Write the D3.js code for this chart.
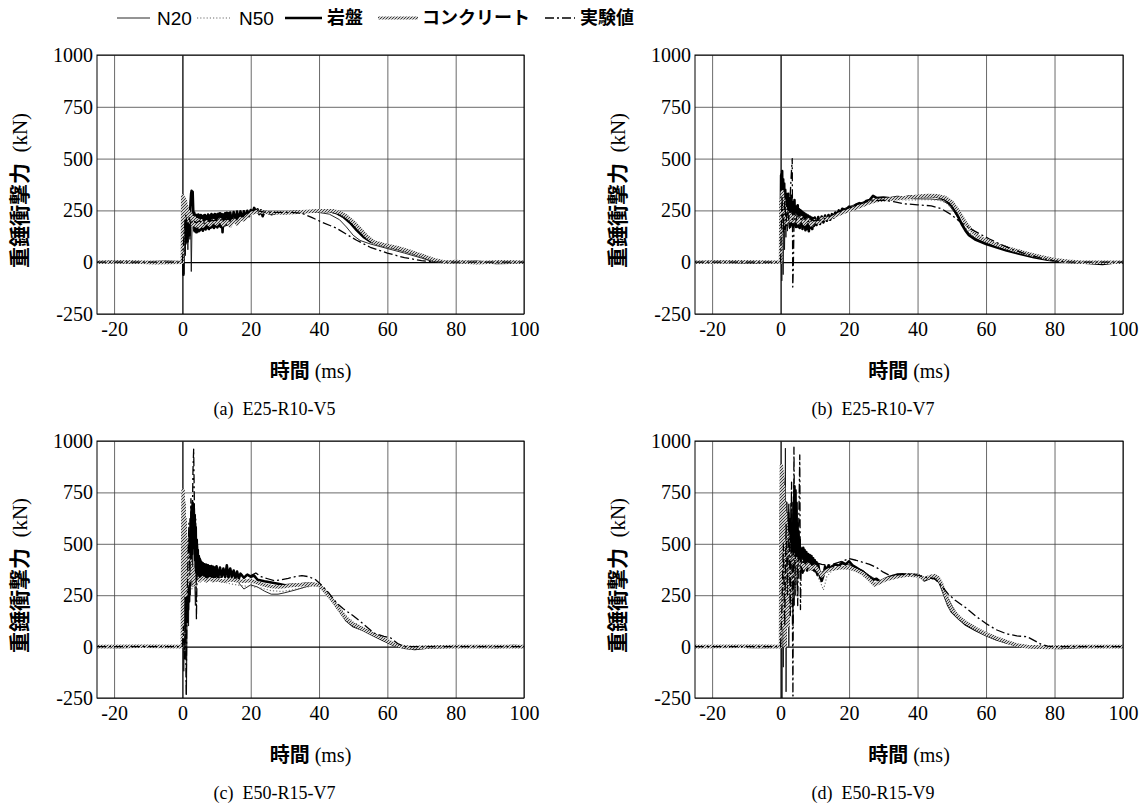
<!DOCTYPE html>
<html>
<head>
<meta charset="utf-8">
<script src="https://cdn.jsdelivr.net/npm/d3@7"></script>
<style>
  body { margin: 0; background: #fff; }
  svg { display: block; }
</style>
</head>
<body>
<svg id="fig" width="1146" height="805"></svg>
<script>
// ---- axis ticks and labels ----
const xTicks = [-20, 0, 20, 40, 60, 80, 100];
const yTicks = [-250, 0, 250, 500, 750, 1000];
const seriesNames = ["N20", "N50", "岩盤", "コンクリート", "実験値"];
const panelTitles = ["(a)  E25-R10-V5", "(b)  E25-R10-V7", "(c)  E50-R15-V7", "(d)  E50-R15-V9"];

// ---- (a) E25-R10-V5 : [time ms, force kN] ----
const aN20 = [[-25,0],[-18,3],[-10,-2],[-3,2],[0,0],[0.2,290],[0.4,-60],[0.6,240],[0.8,30],[1.0,270],[1.2,110],[1.4,230],[1.6,60],[1.8,250],[2.0,160],[2.2,110],[2.4,225],[2.6,-45],[2.8,150],[3.0,240],[3.3,150],[3.6,215],[3.9,140],[4.2,205],[4.5,150],[4.8,210],[5.1,155],[5.4,205],[5.7,160],[6.0,200],[6.4,165],[6.8,205],[7.2,170],[7.6,210],[8,175],[8.5,212],[9,180],[9.5,210],[10,185],[11,212],[12,190],[13,215],[14,200],[16,218],[18,232],[20,245],[22,242],[25,236],[30,238],[35,242],[40,240],[43,232],[46,205],[48,170],[50,130],[52,105],[55,88],[60,66],[65,44],[70,20],[73,4],[78,0],[85,-3],[92,2],[100,0]];
const aN50 = [[-25,0],[0,0],[0.3,210],[0.6,70],[0.9,235],[1.2,130],[1.5,205],[1.9,140],[2.4,195],[3.0,160],[3.6,200],[4.2,165],[5,195],[6,170],[7,198],[8,180],[10,200],[12,192],[14,205],[16,212],[18,226],[20,238],[23,240],[27,236],[32,240],[38,244],[42,244],[45,236],[48,205],[50,172],[52,138],[55,104],[58,85],[62,66],[67,44],[72,18],[75,3],[80,0],[100,0]];
const aRock = [[-25,0],[-20,2],[-12,-2],[-5,2],[0,0],[0.15,170],[0.3,-60],[0.45,250],[0.6,40],[0.75,230],[0.9,90],[1.05,250],[1.2,120],[1.35,260],[1.5,100],[1.65,230],[1.8,140],[1.95,250],[2.1,130],[2.25,240],[2.4,290],[2.55,330],[2.7,345],[2.85,310],[3.0,340],[3.15,260],[3.3,180],[3.45,240],[3.6,150],[3.75,230],[3.9,160],[4.05,228],[4.2,145],[4.35,222],[4.5,155],[4.65,230],[4.8,150],[5.0,225],[5.2,155],[5.4,228],[5.6,160],[5.8,222],[6.0,152],[6.2,225],[6.4,162],[6.6,228],[6.8,158],[7.0,222],[7.25,165],[7.5,230],[7.75,160],[8.0,225],[8.25,166],[8.5,232],[8.75,170],[9.0,228],[9.25,165],[9.5,232],[9.75,172],[10,230],[10.25,168],[10.5,234],[10.75,175],[11,236],[11.25,170],[11.5,232],[11.75,145],[12,230],[12.25,175],[12.5,236],[12.75,180],[13,238],[13.25,182],[13.5,236],[13.75,185],[14,240],[14.5,190],[15,242],[15.5,195],[16,244],[16.5,200],[17,245],[17.5,205],[18,246],[18.5,215],[19,248],[19.5,222],[20,252],[20.5,240],[21,262],[21.5,245],[22,255],[22.5,232],[23,250],[23.5,222],[24,245],[25,238],[26,232],[28,240],[30,238],[33,243],[36,245],[40,248],[43,247],[45,238],[47,220],[49,192],[51,155],[53,122],[55,100],[58,84],[62,68],[66,50],[70,30],[73,12],[76,2],[80,0],[86,2],[92,-4],[100,0]];
const aConc = [[-25,0],[-16,2],[-8,-2],[0,0],[0.1,320],[0.3,270],[0.5,310],[0.7,240],[0.9,295],[1.1,210],[1.3,270],[1.5,200],[1.8,245],[2.1,195],[2.5,230],[3,180],[3.5,215],[4,175],[4.5,205],[5,170],[5.5,200],[6,175],[7,195],[8,180],[9,200],[10,185],[11,205],[12,180],[13,200],[14,175],[15,205],[16,185],[17,210],[18,205],[19,225],[20,235],[22,245],[25,240],[30,238],[35,243],[40,248],[44,248],[46,240],[48,222],[50,195],[52,160],[54,124],[56,98],[59,84],[63,70],[67,50],[71,28],[74,10],[77,0],[80,3],[86,-3],[93,2],[100,0]];
const aExp = [[-25,0],[-10,0],[0,0],[0.5,140],[1,230],[1.5,170],[2,215],[2.5,180],[3,205],[4,190],[5,200],[6,185],[8,200],[10,202],[12,205],[15,212],[18,228],[21,252],[24,242],[28,240],[32,240],[35,236],[38,215],[41,192],[45,165],[48,135],[51,106],[55,72],[60,44],[65,22],[70,8],[74,0],[100,0]];

// ---- (b) E25-R10-V7 ----
const bN20 = [[-25,0],[-15,2],[-5,-2],[0,0],[0.15,430],[0.35,-90],[0.55,380],[0.75,-60],[0.95,320],[1.15,60],[1.35,300],[1.55,120],[1.75,280],[2.0,150],[2.3,260],[2.6,160],[2.9,300],[3.2,200],[3.5,250],[3.8,170],[4.2,260],[4.6,170],[5,240],[5.4,165],[5.8,230],[6.2,170],[6.6,220],[7,165],[7.4,215],[7.8,160],[8.2,210],[8.6,165],[9,205],[9.5,170],[10,200],[11,190],[12,205],[14,215],[16,235],[18,255],[20,268],[22,280],[25,295],[28,305],[32,310],[36,308],[40,306],[44,305],[47,300],[49,280],[51,235],[53,185],[55,140],[57,115],[60,92],[64,70],[68,50],[72,35],[76,20],[80,8],[84,2],[90,-3],[95,-6],[100,0]];
const bN50 = [[-25,0],[0,0],[0.3,360],[0.6,100],[0.9,330],[1.2,150],[1.5,300],[1.9,170],[2.3,280],[2.8,190],[3.3,260],[3.8,200],[4.4,240],[5,205],[6,225],[7,200],[8,210],[9,195],[10,205],[12,210],[14,220],[16,240],[18,252],[20,262],[23,280],[26,295],[30,300],[34,302],[38,300],[42,302],[46,300],[48,290],[50,262],[52,215],[54,165],[56,130],[59,102],[63,78],[67,56],[71,38],[75,22],[79,9],[83,2],[90,-3],[100,0]];
const bRock = [[-25,0],[-18,2],[-8,-2],[0,0],[0.15,420],[0.3,180],[0.45,440],[0.6,150],[0.75,400],[0.9,200],[1.05,380],[1.2,160],[1.35,350],[1.5,220],[1.65,330],[1.8,180],[1.95,320],[2.1,200],[2.25,330],[2.4,190],[2.55,310],[2.7,170],[2.85,300],[3.0,200],[3.15,320],[3.3,180],[3.45,290],[3.6,170],[3.75,280],[3.9,190],[4.05,300],[4.2,180],[4.35,270],[4.5,170],[4.65,260],[4.8,185],[5.0,275],[5.2,170],[5.4,255],[5.6,165],[5.8,250],[6.0,175],[6.2,245],[6.4,160],[6.6,240],[6.8,170],[7.0,235],[7.25,155],[7.5,230],[7.75,160],[8.0,225],[8.25,150],[8.5,220],[8.75,165],[9.0,215],[9.25,160],[9.5,212],[9.75,175],[10,215],[10.5,180],[11,218],[11.5,185],[12,220],[12.5,192],[13,225],[13.5,200],[14,228],[14.5,205],[15,232],[15.5,215],[16,240],[16.5,228],[17,250],[17.5,238],[18,258],[19,250],[20,268],[21,260],[22,278],[23,285],[24,280],[25,295],[26,300],[27,320],[28,310],[30,312],[32,308],[34,315],[36,312],[38,318],[40,316],[42,320],[44,318],[46,315],[48,302],[50,272],[51,245],[52,215],[53,180],[54,152],[55,130],[57,108],[60,88],[63,72],[66,56],[70,40],[74,24],[78,12],[82,4],[86,0],[90,-4],[94,-8],[97,-2],[100,0]];
const bConc = [[-25,0],[-12,2],[0,0],[0.1,300],[0.3,220],[0.5,340],[0.7,180],[0.9,300],[1.1,200],[1.4,260],[1.8,190],[2.2,240],[2.7,200],[3.2,230],[3.8,195],[4.5,225],[5.2,190],[6,215],[7,185],[8,205],[9,180],[10,200],[11,190],[12,208],[14,212],[16,225],[18,238],[20,252],[22,262],[24,275],[26,288],[28,298],[31,303],[34,308],[37,312],[40,318],[43,322],[46,320],[48,312],[50,290],[52,245],[54,190],[56,150],[58,120],[61,98],[64,80],[68,60],[72,42],[76,26],[80,12],[84,4],[88,0],[100,0]];
const bExp = [[-25,0],[-10,0],[0,0],[0.4,320],[0.8,160],[1.2,300],[1.6,190],[2.0,260],[2.4,200],[2.8,320],[3.1,420],[3.4,500],[3.55,-120],[3.7,-40],[4.0,260],[4.5,200],[5,240],[6,205],[7,220],[8,195],[9,205],[10,200],[12,205],[14,218],[16,235],[18,250],[20,262],[23,280],[26,295],[30,300],[33,292],[36,282],[40,277],[44,272],[47,258],[50,228],[52,200],[55,166],[58,138],[61,112],[64,88],[68,60],[72,38],[76,20],[80,6],[85,0],[100,0]];

// ---- (c) E50-R15-V7 ----
const cN20 = [[-25,0],[-15,2],[-5,-2],[0,0],[0.2,500],[0.4,-120],[0.6,600],[0.8,-60],[1.0,450],[1.2,-233],[1.4,200],[1.6,500],[1.8,100],[2.0,420],[2.3,250],[2.6,560],[2.9,300],[3.2,640],[3.5,380],[3.8,200],[4.1,450],[4.4,320],[4.8,400],[5.2,330],[5.6,380],[6,330],[6.5,375],[7,335],[7.5,370],[8,340],[8.5,368],[9,338],[10,350],[11,335],[12,345],[14,340],[16,320],[18,280],[20,300],[22,290],[24,270],[26,255],[28,255],[30,262],[33,275],[36,290],[38,298],[40,296],[42,268],[44,228],[46,180],[48,140],[50,115],[53,88],[56,62],[59,35],[62,10],[65,-5],[68,-10],[72,-3],[80,0],[90,2],[100,0]];
const cN50 = [[-25,0],[0,0],[0.3,380],[0.6,120],[0.9,520],[1.2,150],[1.5,450],[1.9,250],[2.3,420],[2.8,280],[3.3,400],[3.8,300],[4.4,360],[5,310],[6,340],[7,320],[8,330],[10,320],[12,315],[14,305],[16,300],[18,295],[20,292],[23,285],[26,272],[29,268],[32,275],[35,285],[38,295],[40,292],[42,270],[44,235],[46,190],[48,148],[50,120],[53,92],[56,65],[59,38],[62,12],[65,-2],[70,-8],[76,0],[100,0]];
const cRock = [[-25,0],[-18,-2],[-8,2],[0,0],[0.15,300],[0.3,560],[0.45,220],[0.6,500],[0.75,80],[0.9,420],[1.05,150],[1.2,460],[1.35,120],[1.5,400],[1.65,180],[1.8,480],[1.95,220],[2.1,540],[2.25,300],[2.4,620],[2.55,400],[2.7,680],[2.85,450],[3.0,700],[3.15,520],[3.3,690],[3.45,480],[3.6,640],[3.75,420],[3.9,580],[4.05,360],[4.2,520],[4.35,330],[4.5,470],[4.65,340],[4.8,440],[5.0,340],[5.2,420],[5.4,335],[5.6,410],[5.8,340],[6.0,405],[6.25,335],[6.5,400],[6.75,330],[7.0,398],[7.25,338],[7.5,395],[7.75,340],[8,390],[8.25,335],[8.5,392],[8.75,340],[9,388],[9.25,338],[9.5,385],[9.75,340],[10,390],[10.5,335],[11,385],[11.5,340],[12,380],[12.5,338],[13,395],[13.5,335],[14,380],[14.5,340],[15,370],[15.5,330],[16,365],[16.5,330],[17,355],[18,335],[19,350],[20,340],[21,345],[22,325],[24,318],[26,312],[28,306],[30,298],[32,300],[34,302],[36,306],[38,305],[40,300],[42,262],[44,222],[46,175],[48,128],[50,100],[53,80],[56,55],[59,30],[62,8],[65,-5],[68,-12],[72,-4],[78,0],[85,2],[92,-2],[97,3],[100,0]];
const cConc = [[-25,0],[-12,2],[0,0],[0.1,500],[0.2,760],[0.35,450],[0.5,700],[0.65,350],[0.8,620],[1.0,250],[1.2,520],[1.4,300],[1.6,450],[1.9,320],[2.2,420],[2.6,330],[3,380],[3.5,300],[4,340],[5,320],[6,335],[7,320],[8,330],[9,320],[10,325],[12,318],[14,325],[16,320],[18,318],[20,322],[22,310],[24,300],[26,292],[28,290],[30,292],[32,298],[34,300],[36,302],[38,304],[40,300],[42,265],[44,225],[46,178],[48,135],[50,108],[53,84],[56,60],[59,36],[62,12],[64,2],[67,-5],[72,-2],[80,0],[100,0]];
const cExp = [[-25,0],[-10,0],[0,0],[0.3,100],[0.6,-60],[0.9,200],[1.1,-240],[1.3,150],[1.6,400],[1.9,600],[2.2,350],[2.5,720],[2.8,500],[3.1,860],[3.3,960],[3.5,700],[3.7,450],[3.9,620],[4.1,130],[4.4,500],[4.8,380],[5.2,430],[6,380],[7,400],[8,370],[10,365],[12,358],[14,352],[16,345],[18,348],[20,345],[21.5,358],[23,340],[25,330],[27,320],[29,325],[31,332],[33,340],[35,345],[37,340],[39,325],[41,295],[43,258],[45,215],[47,185],[50,150],[53,110],[56,66],[59,50],[61,42],[63,15],[65,0],[100,0]];

// ---- (d) E50-R15-V9 ----
const dN20 = [[-25,0],[-15,2],[-5,-2],[0,0],[0.2,600],[0.4,-250],[0.6,700],[0.8,-100],[1.0,800],[1.2,100],[1.4,965],[1.6,-220],[1.8,500],[2.0,100],[2.2,650],[2.4,0],[2.6,600],[2.8,150],[3.0,700],[3.2,200],[3.4,600],[3.6,100],[3.8,550],[4.0,200],[4.2,650],[4.4,250],[4.6,550],[4.8,300],[5.0,500],[5.3,330],[5.6,470],[6.0,360],[6.5,450],[7.2,380],[8,430],[9,390],[10,410],[11,380],[12,360],[13,380],[14,385],[16,395],[18,400],[20,398],[22,385],[24,370],[26,345],[28,325],[30,320],[32,335],[35,345],[38,348],[40,345],[42,330],[44,335],[46,320],[48,270],[50,200],[52,145],[55,108],[58,75],[61,52],[64,32],[67,14],[70,3],[74,0],[80,-3],[85,-8],[90,0],[100,0]];
const dN50 = [[-25,0],[0,0],[0.3,500],[0.6,150],[0.9,620],[1.2,80],[1.5,550],[1.8,150],[2.1,520],[2.4,120],[2.7,480],[3.0,200],[3.3,520],[3.7,250],[4.0,480],[4.3,280],[4.6,450],[5,320],[5.4,440],[5.8,340],[6.2,430],[6.6,360],[7.5,410],[8.5,370],[9.5,390],[10.5,350],[11.5,320],[12.5,275],[13.5,340],[15,370],[17,385],[19,395],[21,385],[23,370],[25,350],[27,325],[29,315],[31,325],[34,338],[37,345],[40,342],[43,325],[45,330],[47,300],[49,230],[51,170],[53,132],[56,98],[59,68],[62,46],[65,28],[68,12],[71,3],[76,0],[100,0]];
const dRock = [[-25,0],[-18,2],[-8,-2],[0,0],[0.15,700],[0.3,200],[0.45,850],[0.6,100],[0.75,820],[0.9,300],[1.05,700],[1.2,150],[1.35,650],[1.5,250],[1.65,700],[1.8,200],[1.95,600],[2.1,300],[2.25,650],[2.4,250],[2.55,560],[2.7,300],[2.85,620],[3.0,280],[3.15,540],[3.3,320],[3.45,600],[3.6,300],[3.75,700],[3.9,350],[4.05,780],[4.2,400],[4.35,760],[4.5,420],[4.65,700],[4.8,380],[4.95,600],[5.1,360],[5.25,560],[5.4,380],[5.55,520],[5.7,370],[5.85,480],[6.0,380],[6.2,470],[6.4,360],[6.6,480],[6.8,370],[7.0,470],[7.25,380],[7.5,460],[7.75,370],[8.0,450],[8.25,385],[8.5,445],[8.75,380],[9.0,440],[9.25,375],[9.5,430],[9.75,370],[10,420],[10.25,365],[10.5,410],[10.75,350],[11,400],[11.5,340],[12,320],[12.5,345],[13,390],[13.5,365],[14,395],[14.5,375],[15,390],[16,400],[17,392],[18,410],[19,400],[20,415],[21,395],[22,385],[23,375],[24,365],[25,350],[26,338],[27,325],[28,330],[29,315],[30,325],[32,340],[34,350],[36,352],[38,350],[40,348],[41,340],[42,322],[43,330],[44,338],[45,342],[46,330],[47,290],[48,245],[49,200],[50,170],[52,138],[54,108],[57,80],[60,56],[63,36],[66,20],[69,6],[72,0],[76,-4],[82,-6],[86,-2],[90,0],[95,2],[100,0]];
const dConc = [[-25,0],[-10,2],[0,0],[0.1,600],[0.25,880],[0.4,500],[0.55,850],[0.7,100],[0.85,780],[1.0,200],[1.15,700],[1.3,0],[1.45,650],[1.6,150],[1.75,600],[1.9,250],[2.05,550],[2.2,100],[2.35,500],[2.5,250],[2.7,470],[2.9,200],[3.1,450],[3.3,280],[3.6,450],[4,320],[4.5,430],[5,360],[6,420],[7,380],[8,400],[9,380],[10,390],[11,370],[12,345],[13,365],[14,372],[16,380],[18,385],[20,382],[22,372],[24,355],[26,325],[27.5,300],[29,312],[31,328],[34,340],[37,348],[40,345],[42,330],[44,342],[45,345],[46,335],[47,305],[48,260],[49,215],[50,180],[52,145],[54,118],[57,88],[60,62],[63,42],[66,24],[69,8],[72,0],[78,-4],[85,0],[100,0]];
const dExp = [[-25,0],[-10,0],[0,0],[0.4,200],[0.8,500],[1.2,100],[1.6,600],[2.0,250],[2.4,700],[2.8,150],[3.2,800],[3.6,-240],[3.9,970],[4.2,300],[4.6,700],[5.0,200],[5.3,600],[5.6,932],[5.8,180],[6.1,480],[6.6,400],[7.2,460],[8,420],[9,440],[10,410],[12,400],[14,395],[16,405],[18,415],[20,428],[22,420],[24,410],[26,400],[28,385],[30,362],[32,345],[35,350],[38,352],[40,348],[42,338],[45,330],[47,295],[49,255],[51,225],[54,190],[57,148],[60,112],[63,82],[66,62],[69,52],[72,48],[74,30],[76,12],[78,2],[80,0],[100,0]];

// ---- layout ----
const W = 1146, H = 805;
const panels = [
  { title: panelTitles[0], left: 97,  right: 524,  top: 55,  bottom: 314, series: [aN20, aN50, aRock, aConc, aExp] },
  { title: panelTitles[1], left: 695, right: 1123, top: 55,  bottom: 314, series: [bN20, bN50, bRock, bConc, bExp] },
  { title: panelTitles[2], left: 97,  right: 524,  top: 441, bottom: 698, series: [cN20, cN50, cRock, cConc, cExp] },
  { title: panelTitles[3], left: 695, right: 1123, top: 441, bottom: 698, series: [dN20, dN50, dRock, dConc, dExp] }
];

// line styles in legend order
const styles = [
  { stroke: "#111",        width: 0.9, dash: null },
  { stroke: "#6a6a6a",     width: 1.1, dash: "1.2,2" },
  { stroke: "#000",        width: 2.6, dash: null },
  { stroke: "url(#hatch)", width: 3.6, dash: null },
  { stroke: "#000",        width: 1.3, dash: "9,3,2,3" }
];

const serif = "'Liberation Serif', 'Times New Roman', serif";
const cjk = "'Noto Sans CJK JP', 'Noto Sans', sans-serif";
const sans = "'Liberation Sans', Arial, sans-serif";

const svg = d3.select("#fig");
svg.append("rect").attr("width", W).attr("height", H).attr("fill", "#fff");

const defs = svg.append("defs");
const hatch = defs.append("pattern")
  .attr("id", "hatch").attr("patternUnits", "userSpaceOnUse")
  .attr("width", 3).attr("height", 3);
hatch.append("rect").attr("width", 3).attr("height", 3).attr("fill", "#cdcdcd");
hatch.append("path").attr("d", "M-1,1 L1,-1 M0,3 L3,0 M2,4 L4,2")
  .attr("stroke", "#2e2e2e").attr("stroke-width", 0.9);

// ---- legend ----
const legendItems = [
  { x1: 117, x2: 150, tx: 157 },
  { x1: 197, x2: 230, tx: 239 },
  { x1: 285, x2: 322, tx: 327 },
  { x1: 378, x2: 418, tx: 422 },
  { x1: 545, x2: 575, tx: 580 }
];
const legend = svg.append("g");
legendItems.forEach((it, i) => {
  const st = styles[i];
  legend.append("line")
    .attr("x1", it.x1).attr("x2", it.x2).attr("y1", 18).attr("y2", 18)
    .attr("stroke", st.stroke).attr("stroke-width", i === 3 ? 3 : st.width)
    .attr("stroke-dasharray", st.dash);
  legend.append("text")
    .attr("x", it.tx).attr("y", 18).attr("dy", "0.36em")
    .style("font-family", i < 2 ? sans : cjk)
    .style("font-weight", i < 2 ? 400 : 700)
    .style("font-size", i < 2 ? "19px" : "18px")
    .text(seriesNames[i]);
});

// ---- panels ----
panels.forEach((p, pi) => {
  const x = d3.scaleLinear().domain([-25, 100]).range([p.left, p.right]);
  const y = d3.scaleLinear().domain([-250, 1000]).range([p.bottom, p.top]);
  const g = svg.append("g");
  const pw = p.right - p.left, ph = p.bottom - p.top;

  // grid
  const gx = g.append("g").attr("transform", `translate(0,${p.bottom})`)
    .call(d3.axisBottom(x).tickValues(xTicks).tickSize(-ph).tickFormat(""));
  const gy = g.append("g").attr("transform", `translate(${p.left},0)`)
    .call(d3.axisLeft(y).tickValues(yTicks).tickSize(-pw).tickFormat(""));
  [gx, gy].forEach(a => {
    a.select(".domain").remove();
    a.selectAll(".tick line").attr("stroke", "#444").attr("stroke-width", 0.8);
  });
  gx.selectAll(".tick").filter(d => d === 0).select("line").attr("stroke", "#000").attr("stroke-width", 1.3);
  gy.selectAll(".tick").filter(d => d === 0).select("line").attr("stroke", "#000").attr("stroke-width", 1.3);

  // tick labels
  const lx = g.append("g").attr("transform", `translate(0,${p.bottom})`)
    .call(d3.axisBottom(x).tickValues(xTicks).tickSize(0).tickPadding(8).tickFormat(d => String(d)));
  const ly = g.append("g").attr("transform", `translate(${p.left},0)`)
    .call(d3.axisLeft(y).tickValues(yTicks).tickSize(0).tickPadding(4).tickFormat(d => String(d)));
  [lx, ly].forEach(a => {
    a.select(".domain").remove();
    a.attr("font-family", null).attr("font-size", null);
    a.selectAll("text")
      .style("font-family", serif).style("font-size", "20px").attr("fill", "#000");
  });

  // curves
  const clipId = "clip" + pi;
  defs.append("clipPath").attr("id", clipId)
    .append("rect").attr("x", p.left).attr("y", p.top).attr("width", pw).attr("height", ph);
  const line = d3.line().x(d => x(d[0])).y(d => y(d[1]));
  const curves = g.append("g").attr("clip-path", `url(#${clipId})`);
  p.series.forEach((s, si) => {
    const st = styles[si];
    curves.append("path").datum(s)
      .attr("d", line)
      .attr("fill", "none")
      .attr("stroke", st.stroke)
      .attr("stroke-width", st.width)
      .attr("stroke-dasharray", st.dash)
      .attr("stroke-linejoin", "round");
  });

  // frame
  g.append("rect").attr("x", p.left).attr("y", p.top).attr("width", pw).attr("height", ph)
    .attr("fill", "none").attr("stroke", "#000").attr("stroke-width", 1);

  // axis titles
  const cx = (p.left + p.right) / 2;
  const xt = g.append("text").attr("x", cx).attr("y", p.bottom + 57).attr("dy", "0.35em")
    .attr("text-anchor", "middle").style("font-size", "20px");
  xt.append("tspan").style("font-family", cjk).style("font-weight", 700).text("時間");
  xt.append("tspan").style("font-family", serif).text(" (ms)");

  const cy = (p.top + p.bottom) / 2 + 6;
  const yt = g.append("text")
    .attr("transform", `translate(${p.left - 77},${cy}) rotate(-90)`)
    .attr("dy", "0.35em").attr("text-anchor", "middle").style("font-size", "21px")
    .style("white-space", "pre");
  yt.append("tspan").style("font-family", cjk).style("font-weight", 700).text("重錘衝撃力");
  yt.append("tspan").style("font-family", serif).text("  (kN)");

  // panel caption
  g.append("text").attr("x", cx - 36).attr("y", p.bottom + 95).attr("dy", "0.35em")
    .attr("text-anchor", "middle").style("font-family", serif).style("font-size", "18px")
    .style("white-space", "pre")
    .text(p.title);
});
</script>
</body>
</html>
